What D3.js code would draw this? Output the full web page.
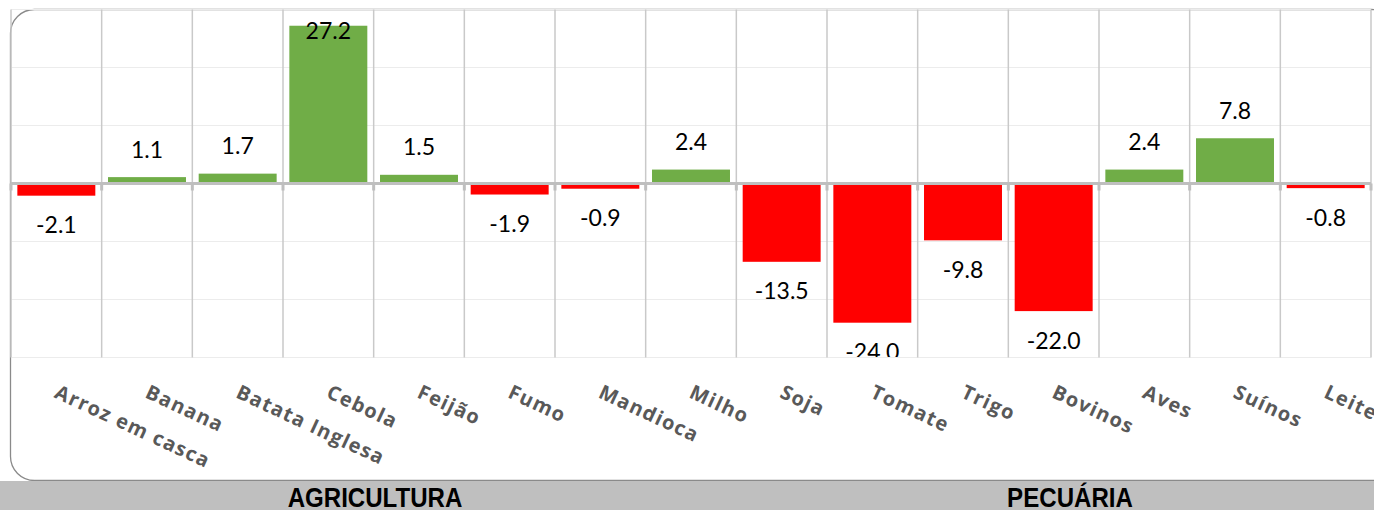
<!DOCTYPE html>
<html>
<head>
<meta charset="utf-8">
<script src="https://cdn.jsdelivr.net/npm/d3@7"></script>
<style>
  html, body { margin: 0; padding: 0; background: #fff; }
  svg { display: block; }
</style>
</head>
<body>
<div id="chart"></div>
<script>
// Variação (%) por produto
const categories = ["Arroz em casca", "Banana", "Batata Inglesa", "Cebola", "Feijão", "Fumo", "Mandioca",
  "Milho", "Soja", "Tomate", "Trigo", "Bovinos", "Aves", "Suínos", "Leite"];
const values = [-2.1, 1.1, 1.7, 27.2, 1.5, -1.9, -0.9, 2.4, -13.5, -24.0, -9.8, -22.0, 2.4, 7.8, -0.8];
const yTicks = [-30, -20, -10, 0, 10, 20, 30];
const groups = ["AGRICULTURA", "PECUÁRIA"];

const W = 1374, H = 510;
const plot = { left: 11, right: 1371, top: 9.5, bottom: 357.5 };
const groupCenters = [375, 1070];

const svg = d3.select("#chart").append("svg")
    .attr("width", W)
    .attr("height", H);

const x = d3.scaleBand()
    .domain(categories)
    .range([plot.left, plot.right])
    .paddingInner(0.14)
    .paddingOuter(0.07);

const y = d3.scaleLinear()
    .domain([-30, 30])
    .range([plot.bottom, plot.top]);

const step = x.step();
const bounds = d3.range(categories.length + 1).map(i => plot.left + i * step);

// outer frame (rounded)
svg.append("rect")
    .attr("x", 10.5).attr("y", 9.5)
    .attr("width", 1385).attr("height", 471)
    .attr("rx", 24).attr("ry", 24)
    .attr("fill", "#fff")
    .attr("stroke", "#8a8a8a")
    .attr("stroke-width", 1.3);

// horizontal gridlines
svg.append("g")
    .selectAll("line")
    .data(yTicks.filter(d => d !== 0))
    .join("line")
    .attr("x1", plot.left).attr("x2", plot.right)
    .attr("y1", d => y(d)).attr("y2", d => y(d))
    .attr("stroke", "#ececec")
    .attr("stroke-width", 1);

// vertical gridlines at category boundaries
svg.append("g")
    .selectAll("line")
    .data(bounds)
    .join("line")
    .attr("x1", d => d).attr("x2", d => d)
    .attr("y1", plot.top).attr("y2", plot.bottom)
    .attr("stroke", "#c9c9c9")
    .attr("stroke-width", 1.5);

// bars
svg.append("g")
    .selectAll("rect")
    .data(categories)
    .join("rect")
    .attr("x", d => x(d))
    .attr("width", x.bandwidth())
    .attr("y", (d, i) => y(Math.max(0, values[i])))
    .attr("height", (d, i) => Math.abs(y(values[i]) - y(0)))
    .attr("fill", (d, i) => values[i] >= 0 ? "#70ad47" : "#ff0000");

// zero line with small ticks
svg.append("line")
    .attr("x1", plot.left).attr("x2", plot.right)
    .attr("y1", y(0)).attr("y2", y(0))
    .attr("stroke", "#bfbfbf")
    .attr("stroke-width", 3);

svg.append("g")
    .selectAll("line")
    .data(bounds)
    .join("line")
    .attr("x1", d => d).attr("x2", d => d)
    .attr("y1", y(0)).attr("y2", y(0) + 7)
    .attr("stroke", "#bfbfbf")
    .attr("stroke-width", 3);

// value labels (clipped to plot area)
svg.append("clipPath").attr("id", "plotClip")
    .append("rect")
    .attr("x", 0).attr("y", plot.top)
    .attr("width", W).attr("height", plot.bottom - plot.top - 0.5);

svg.append("g")
    .attr("clip-path", "url(#plotClip)")
    .style("font-family", "Lato, 'Open Sans', sans-serif")
    .style("font-size", "23px")
    .attr("fill", "#000")
    .attr("text-anchor", "middle")
    .selectAll("text")
    .data(categories)
    .join("text")
    .attr("x", d => x(d) + x.bandwidth() / 2)
    .attr("y", (d, i) => {
        const v = values[i];
        if (v >= 0) {
            const top = y(v);
            return top - 36 < plot.top ? top + 13 : top - 19.5;
        }
        return y(v) + 37.5;
    })
    .text((d, i) => values[i].toFixed(1));

// category labels, rotated
svg.append("g")
    .style("font-family", "'Open Sans', sans-serif")
    .style("font-size", "20px")
    .style("font-weight", "bold")
    .style("letter-spacing", "1.3px")
    .attr("fill", "#595959")
    .selectAll("text")
    .data(categories)
    .join("text")
    .attr("transform", d => `translate(${x(d) + x.bandwidth() / 2 - 3},397) rotate(25)`)
    .attr("text-anchor", "start")
    .text(d => d);

// group band at bottom
svg.append("rect")
    .attr("x", 0).attr("y", 481)
    .attr("width", W).attr("height", H - 481)
    .attr("fill", "#bfbfbf");

svg.append("g")
    .style("font-family", "'Liberation Sans', Arial, sans-serif")
    .style("font-size", "28px")
    .style("font-weight", "bold")
    .attr("fill", "#000")
    .attr("text-anchor", "middle")
    .selectAll("text")
    .data(groups)
    .join("text")
    .attr("transform", (d, i) => `translate(${groupCenters[i]},507) scale(0.86,1)`)
    .text(d => d);
</script>
</body>
</html>
